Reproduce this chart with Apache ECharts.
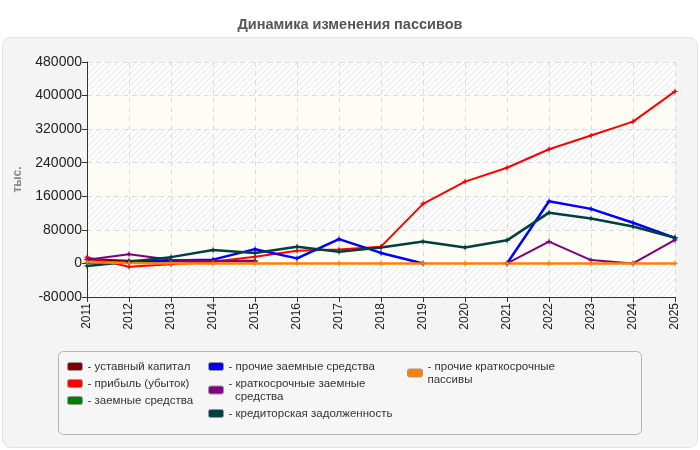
<!DOCTYPE html>
<html>
<head>
<meta charset="utf-8">
<script src="https://cdn.jsdelivr.net/npm/echarts@6/dist/echarts.min.js"></script>
<style>
html, body { margin: 0; padding: 0; background: #fff; }
#chart { width: 700px; height: 450px; }
</style>
</head>
<body>
<div id="chart"></div>
<script>
var years = ['2011', '2012', '2013', '2014', '2015', '2016', '2017', '2018', '2019', '2020', '2021', '2022', '2023', '2024', '2025'];
var yTicks = { min: -80000, max: 480000, step: 80000 };

// значения, тыс.
var ustavCapital = [10000, 6000, 6000, 6000, 6000, null, null, null, null, null, null, null, null, null, null];
var pribyl = [15000, -8000, -2000, 4000, 16000, 30000, 33000, 40000, 142000, 195000, 228000, 272000, 305000, 338000, 410000];
var zaemnye = [1000, 3000, 6000, 7000, null, null, null, null, null, null, null, null, null, null, null];
var prochieZaemnye = [null, 3000, 7000, 9000, 34000, 12000, 58000, 25000, 0, null, 0, 148000, 130000, 97000, 61000];
var kratkoZaemnye = [9000, 22000, 9000, 6000, 5000, null, null, null, null, null, 0, 52000, 8000, 0, 56000];
var kreditorka = [-6000, 4000, 15000, 32000, 25000, 40000, 28000, 38000, 52000, 38000, 55000, 121000, 107000, 88000, 61000];
var prochieKratko = [3000, 1000, 0, 0, 0, 0, 0, 0, 0, 0, 0, 0, 0, 0, 0];

var names = ['уставный капитал', 'прибыль (убыток)', 'заемные средства', 'прочие заемные средства',
	'краткосрочные заемные средства', 'кредиторская задолженность', 'прочие краткосрочные пассивы'];
var colors = ['#800000', '#ff0000', '#008000', '#0000ff', '#800080', '#004040', '#ff8000'];
var widths = [2.5, 2, 2.5, 2.5, 2, 2.5, 2.5];
var values = [ustavCapital, pribyl, zaemnye, prochieZaemnye, kratkoZaemnye, kreditorka, prochieKratko];

var font = 'Liberation Sans, Arial, sans-serif';

// штриховка фона
var hatch = document.createElement('canvas');
hatch.width = 6;
hatch.height = 6;
var hc = hatch.getContext('2d');
hc.fillStyle = '#ffffff';
hc.fillRect(0, 0, 6, 6);
hc.strokeStyle = '#e6e6e6';
hc.lineWidth = 1;
hc.beginPath();
hc.moveTo(0, 6); hc.lineTo(6, 0);
hc.moveTo(-3, 3); hc.lineTo(3, -3);
hc.moveTo(3, 9); hc.lineTo(9, 3);
hc.stroke();
var hatchFill = { image: hatch, repeat: 'repeat' };

var legendText = {
	'уставный капитал': '- уставный капитал',
	'прибыль (убыток)': '- прибыль (убыток)',
	'заемные средства': '- заемные средства',
	'прочие заемные средства': '- прочие заемные средства',
	'краткосрочные заемные средства': '- краткосрочные заемные\n  средства',
	'кредиторская задолженность': '- кредиторская задолженность',
	'прочие краткосрочные пассивы': '- прочие краткосрочные\nпассивы'
};

function makeLegend(left, data) {
	return {
		orient : 'vertical',
		left : left,
		top : 360,
		padding : 0,
		itemWidth : 15,
		itemHeight : 8,
		itemGap : 4,
		icon : 'roundRect',
		selectedMode : false,
		itemStyle : {
			borderColor : '#999',
			borderWidth : 1
		},
		textStyle : {
			fontFamily : font,
			fontSize : 11.5,
			color : '#333',
			lineHeight : 13
		},
		formatter : function(n) {
			return legendText[n];
		},
		data : data
	};
}

var star = 'path://M0,-5 L1.2,-1.2 L5,0 L1.2,1.2 L0,5 L-1.2,1.2 L-5,0 L-1.2,-1.2 Z';

var series = names.map(function(n, i) {
	return {
		name : n,
		type : 'line',
		data : values[i],
		color : colors[i],
		symbol : star,
		symbolSize : 7,
		showSymbol : true,
		connectNulls : false,
		lineStyle : {
			width : widths[i],
			color : colors[i]
		},
		itemStyle : {
			color : colors[i]
		}
	};
});

var myChart = echarts.init(document.getElementById('chart'));
var option = {
	animation : false,
	title : {
		text : 'Динамика изменения пассивов',
		left : 'center',
		top : 12,
		textStyle : {
			fontFamily : font,
			fontSize : 14.5,
			fontWeight : 'bold',
			color : '#555'
		}
	},
	graphic : [ {
		type : 'rect',
		z : -10,
		shape : { x : 2.5, y : 37.5, width : 695, height : 410, r : 8 },
		style : { fill : '#f4f4f4', stroke : '#e3e3e3', lineWidth : 1 }
	}, {
		type : 'rect',
		z : -9,
		shape : { x : 58.5, y : 351.5, width : 583, height : 83, r : 5 },
		style : { fill : '#f6f6f6', stroke : '#b5b5b5', lineWidth : 1 }
	} ],
	legend : [
		makeLegend(67, [names[0], names[1], names[2]]),
		makeLegend(208, [names[3], names[4], names[5]]),
		makeLegend(407, [names[6]])
	],
	grid : {
		left : 87,
		right : 25,
		top : 62,
		bottom : 153
	},
	xAxis : {
		type : 'category',
		data : years,
		boundaryGap : false,
		axisLine : {
			onZero : false,
			lineStyle : { color : '#333' }
		},
		axisTick : {
			show : true,
			length : 5,
			alignWithLabel : true,
			lineStyle : { color : '#333' }
		},
		axisLabel : {
			rotate : 90,
			interval : 0,
			fontFamily : font,
			fontSize : 12,
			color : '#222',
			margin : 6
		},
		splitLine : {
			show : true,
			lineStyle : { color : '#dcdcdc', type : [5, 4] }
		}
	},
	yAxis : {
		type : 'value',
		min : yTicks.min,
		max : yTicks.max,
		interval : yTicks.step,
		name : 'тыс.',
		nameLocation : 'middle',
		nameGap : 63,
		nameRotate : 90,
		nameTextStyle : {
			fontFamily : font,
			fontSize : 12,
			fontWeight : 'bold',
			color : '#888'
		},
		axisLine : {
			show : true,
			lineStyle : { color : '#333' }
		},
		axisTick : {
			show : true,
			length : 5,
			lineStyle : { color : '#333' }
		},
		axisLabel : {
			fontFamily : font,
			fontSize : 14,
			color : '#222',
			margin : 5,
			formatter : function(v) {
				return String(v);
			}
		},
		splitLine : {
			show : true,
			lineStyle : { color : '#dcdcdc', type : [5, 4] }
		},
		splitArea : {
			show : true,
			areaStyle : {
				color : [ hatchFill, '#fdfdf5' ]
			}
		}
	},
	series : series
};
myChart.setOption(option);
</script>
</body>
</html>
